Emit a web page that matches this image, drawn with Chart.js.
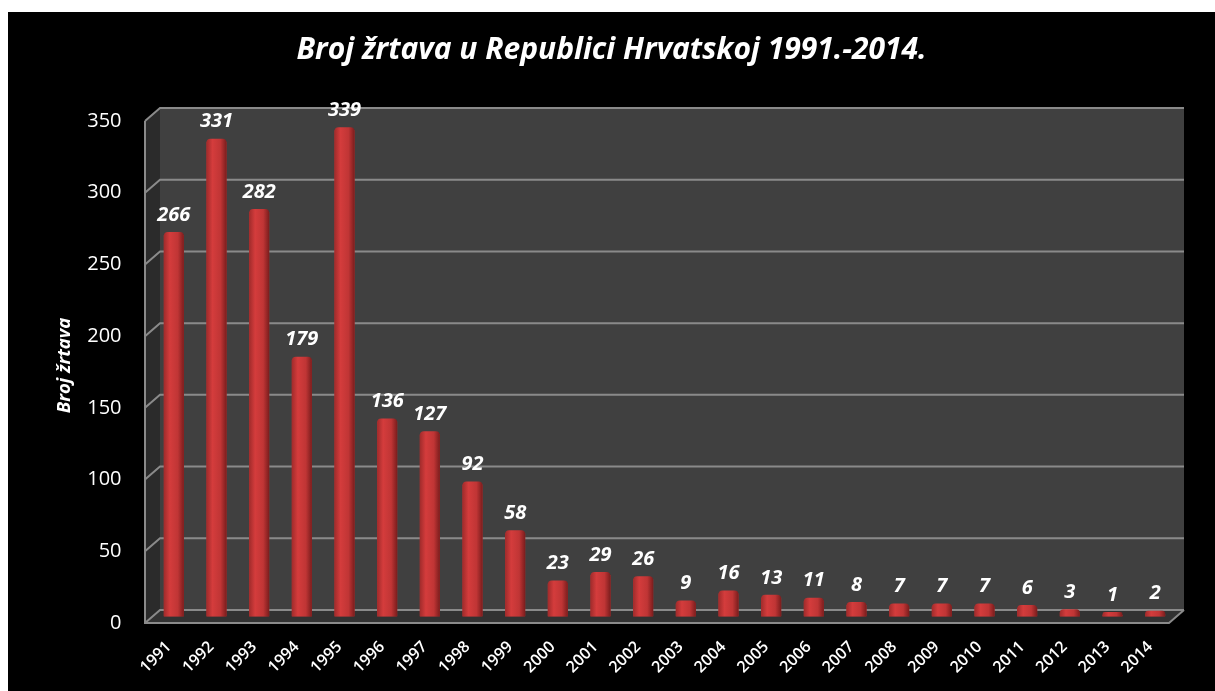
<!DOCTYPE html>
<html>
<head>
<meta charset="utf-8">
<script src="https://cdn.jsdelivr.net/npm/chart.js@4.4.1/dist/chart.umd.min.js"></script>
<style>
  html, body { margin: 0; padding: 0; background: #fff; }
  #wrap { position: absolute; left: 8px; top: 12px; width: 1207px; height: 679px; background: #000; }
</style>
</head>
<body>
<div id="wrap"><canvas id="chart" width="1207" height="679"></canvas></div>
<script>
// data
const years = ['1991', '1992', '1993', '1994', '1995', '1996', '1997', '1998', '1999', '2000', '2001', '2002',
  '2003', '2004', '2005', '2006', '2007', '2008', '2009', '2010', '2011', '2012', '2013', '2014'];
const victims = [266, 331, 282, 179, 339, 136, 127, 92, 58, 23, 29, 26, 9, 16, 13, 11, 8, 7, 7, 7, 6, 3, 1, 2];
const yTicks = [0, 50, 100, 150, 200, 250, 300, 350];

const FONT = "'Open Sans', 'Liberation Sans', sans-serif";
const DX = 7.5, DY = 6.5; // half depth of the fake 3d box

// back wall, side wall, floor and gridlines
const frame3d = {
  id: 'frame3d',
  beforeDatasetsDraw(chart) {
    const { ctx, chartArea: a, scales: { y } } = chart;
    const yTop = y.getPixelForValue(yTicks[yTicks.length - 1]);
    const yBot = y.getPixelForValue(0);
    const poly = (pts, fill) => {
      ctx.beginPath();
      pts.forEach((p, i) => i ? ctx.lineTo(p[0], p[1]) : ctx.moveTo(p[0], p[1]));
      ctx.closePath();
      ctx.fillStyle = fill;
      ctx.fill();
    };
    ctx.save();
    ctx.fillStyle = '#404040';
    ctx.fillRect(a.left + DX, yTop - DY, a.right - a.left, yBot - yTop);
    poly([[a.left - DX, yTop + DY], [a.left + DX, yTop - DY], [a.left + DX, yBot - DY], [a.left - DX, yBot + DY]], '#2b2b2b');
    poly([[a.left - DX, yBot + DY], [a.left + DX, yBot - DY], [a.right + DX, yBot - DY], [a.right - DX, yBot + DY]], '#323232');

    ctx.strokeStyle = '#8a8a8a';
    ctx.lineWidth = 2;
    yTicks.forEach(v => {
      const py = y.getPixelForValue(v);
      ctx.beginPath();
      ctx.moveTo(a.left - DX, py + DY);
      ctx.lineTo(a.left + DX, py - DY);
      ctx.lineTo(a.right + DX, py - DY);
      ctx.stroke();
    });
    ctx.beginPath();
    ctx.moveTo(a.left - DX, yTop + DY);
    ctx.lineTo(a.left - DX, yBot + DY);
    ctx.lineTo(a.right - DX, yBot + DY);
    ctx.lineTo(a.right + DX, yBot - DY);
    ctx.stroke();
    ctx.restore();
  }
};

// shaded cylinder-like bars + value labels
const barShade = {
  id: 'barShade',
  afterDatasetsDraw(chart) {
    const ctx = chart.ctx;
    const meta = chart.getDatasetMeta(0);
    ctx.save();
    meta.data.forEach((bar, i) => {
      const { x, y, base, width } = bar.getProps(['x', 'y', 'base', 'width'], true);
      const l = x - width / 2, r = x + width / 2;
      const g = ctx.createLinearGradient(l, 0, r, 0);
      g.addColorStop(0, '#a02b2b');
      g.addColorStop(0.3, '#d43c3c');
      g.addColorStop(0.7, '#c03535');
      g.addColorStop(1, '#7a1d1d');
      const top = y - 3;
      const rad = Math.min(4, (base - top) / 2);
      ctx.fillStyle = g;
      ctx.beginPath();
      ctx.moveTo(l, base);
      ctx.lineTo(l, top + rad);
      ctx.quadraticCurveTo(l, top, l + rad, top);
      ctx.lineTo(r - rad, top);
      ctx.quadraticCurveTo(r, top, r, top + rad);
      ctx.lineTo(r, base);
      ctx.closePath();
      ctx.fill();

      ctx.fillStyle = '#fff';
      ctx.font = 'italic bold 20px ' + FONT;
      ctx.textAlign = 'center';
      ctx.textBaseline = 'middle';
      ctx.fillText(String(victims[i]), x, y - 20);
    });
    ctx.restore();
  }
};

const chart = new Chart(document.getElementById('chart'), {
  type: 'bar',
  data: {
    labels: years,
    datasets: [{
      label: 'Broj žrtava',
      data: victims,
      backgroundColor: '#c03535',
      barPercentage: 0.47,
      categoryPercentage: 1
    }]
  },
  options: {
    responsive: false,
    animation: false,
    layout: { padding: 0 },
    plugins: {
      legend: { display: false },
      tooltip: { enabled: false },
      title: {
        display: true,
        text: 'Broj žrtava u Republici Hrvatskoj 1991.-2014.',
        color: '#fff',
        font: { family: FONT, size: 30, weight: 'bold', style: 'italic' },
        padding: { top: 20, bottom: 46.5 }
      }
    },
    scales: {
      x: {
        grid: { display: false, drawTicks: false },
        border: { display: false },
        ticks: {
          color: '#fff',
          font: { family: FONT, size: 16, weight: '600' },
          autoSkip: false,
          minRotation: 45,
          maxRotation: 45,
          padding: 21,
          labelOffset: -5
        },
        afterFit: s => { s.height = 74.5; }
      },
      y: {
        min: 0,
        max: 350,
        grid: { display: false, drawTicks: false },
        border: { display: false },
        ticks: {
          color: '#fff',
          font: { family: FONT, size: 20 },
          padding: 31,
          labelOffset: 6.5
        },
        afterBuildTicks: s => { s.ticks = yTicks.map(v => ({ value: v })); },
        title: {
          display: true,
          text: 'Broj žrtava',
          color: '#fff',
          font: { family: FONT, size: 18.5, weight: 'bold', style: 'italic' },
          padding: { top: 46, bottom: 0 }
        },
        afterFit: s => { s.width = 144.5; }
      },
      // empty axis that only reserves the space right of the box
      yRight: {
        position: 'right',
        min: 0,
        max: 350,
        grid: { display: false, drawTicks: false },
        border: { display: false },
        ticks: { display: false },
        afterFit: s => { s.width = 38.5; }
      }
    }
  },
  plugins: [frame3d, barShade]
});
</script>
</body>
</html>
